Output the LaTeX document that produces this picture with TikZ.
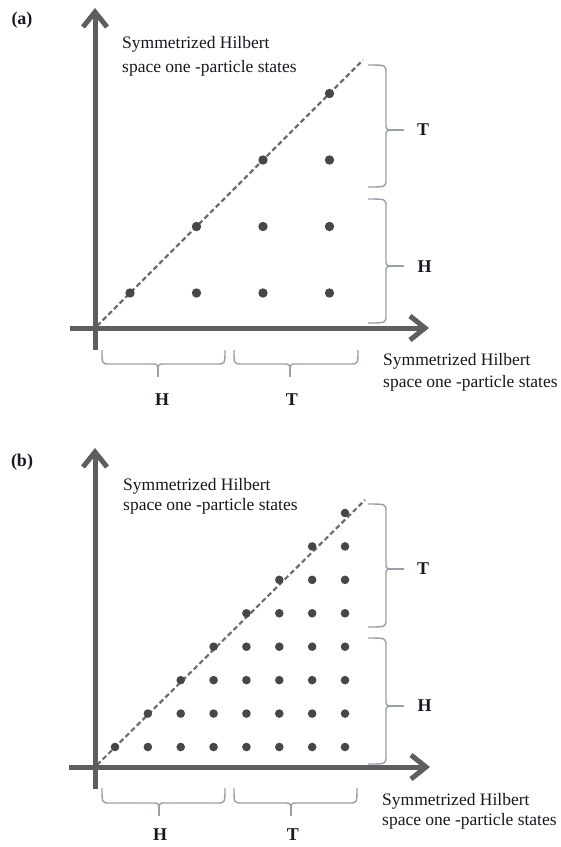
\documentclass[tikz,border=0pt]{standalone}
\usepackage{fontspec}
\setmainfont{Liberation Serif}
\usetikzlibrary{arrows.meta}
\definecolor{axisgray}{HTML}{5E5E62}
\definecolor{dotgray}{HTML}{47474B}
\definecolor{dashgray}{HTML}{6E6E70}
\definecolor{bracegray}{HTML}{99A0A8}
\definecolor{txt}{HTML}{181822}
\tikzset{
  axis/.style={draw=axisgray, line width=5pt, -{Straight Barb[length=15pt,width=24pt]}},
  diag/.style={draw=dashgray, line width=2.2pt, dash pattern=on 5pt off 3pt},
  dot/.style={fill=dotgray},
  bracestyle/.style={draw=bracegray, line width=1.4pt},
  lab/.style={text=txt, inner sep=0pt, font=\fontsize{17.5}{20}\selectfont},
  blab/.style={text=txt, inner sep=0pt, font=\fontsize{18}{20}\selectfont\bfseries},
}
\newcommand{\RightBraceAt}[5]{%
  \draw[bracestyle] (#1,#3) .. controls (#2,#3) .. (#2,#3+8) -- (#2,#4-6) .. controls (#2,#4-1) .. (#2+4,#4) .. controls (#2,#4+1) .. (#2,#4+6) -- (#2,#5-8) .. controls (#2,#5) .. (#1,#5);
  \draw[bracestyle] (#2+4,#4) -- (#2+18,#4);}
\newcommand{\BottomBraceAt}[5]{%
  \draw[bracestyle] (#3,#1) .. controls (#3,#2) .. (#3+8,#2) -- (#4-6,#2) .. controls (#4-1,#2) .. (#4,#2+4) .. controls (#4+1,#2) .. (#4+6,#2) -- (#5-8,#2) .. controls (#5,#2) .. (#5,#1);
  \draw[bracestyle] (#4,#2+4) -- (#4,#2+13);}
\begin{document}
\begin{tikzpicture}[x=1pt,y=-1pt]
\useasboundingbox (0,0) rectangle (561,847);
% ---------------- panel (a)
\node[blab] (la) at (22,20) {(a)};
\coordinate (adiag) at (363,60);
\draw[diag] (97,326) -- (adiag);
\coordinate (ayt) at (95,8);
\coordinate (axt) at (429,328);
\coordinate (ayb) at (95,350);
\coordinate (axb) at (70,328);
\draw[axis] (ayb) -- (ayt);
\draw[axis] (axb) -- (axt);
\foreach \i in {0,...,3}{
  \foreach \j in {0,...,\i}{
    \fill[dot] ({130+66.5*\i},{293-66.5*\j}) circle (4.7pt);
  }
}
\node[lab, anchor=base west] (ay1) at (122,48) {Symmetrized Hilbert};
\node[lab, anchor=base west] (ay2) at (122,72) {space one -particle states};
\node[lab, anchor=base west] (ax1) at (383,365) {Symmetrized Hilbert};
\node[lab, anchor=base west] (ax2) at (383,387) {space one -particle states};
\RightBraceAt{368}{386}{65}{130}{187}
\RightBraceAt{368}{386}{199}{266}{323}
\node[blab] (aT) at (423,130) {T};
\node[blab] (aH) at (424.5,267) {H};
\BottomBraceAt{350}{364}{102}{158}{225}
\BottomBraceAt{350}{364}{234}{290}{358}
\node[blab] (aH2) at (162,400) {H};
\node[blab] (aT2) at (292,400) {T};
% ---------------- panel (b)
\node[blab] (lb) at (22,462) {(b)};
\coordinate (bdiag) at (365,500);
\draw[diag] (97,765) -- (bdiag);
\coordinate (byt) at (95,448);
\coordinate (bxt) at (430,767);
\coordinate (byb) at (95,789);
\coordinate (bxb) at (69,767);
\draw[axis] (byb) -- (byt);
\draw[axis] (bxb) -- (bxt);
\foreach \i in {0,...,7}{
  \foreach \j in {0,...,\i}{
    \fill[dot] ({115+32.86*\i},{747-33.43*\j}) circle (4.3pt);
  }
}
\node[lab, anchor=base west] (by1) at (123,490) {Symmetrized Hilbert};
\node[lab, anchor=base west] (by2) at (123,510) {space one -particle states};
\node[lab, anchor=base west] (bx1) at (382,805) {Symmetrized Hilbert};
\node[lab, anchor=base west] (bx2) at (382,825) {space one -particle states};
\RightBraceAt{368}{386}{504}{569}{627}
\RightBraceAt{368}{386}{638}{706}{764}
\node[blab] (bT) at (423,568.5) {T};
\node[blab] (bH) at (424.5,706) {H};
\BottomBraceAt{788}{803}{102}{159}{225}
\BottomBraceAt{788}{803}{234}{291}{357}
\node[blab] (bH2) at (160,835) {H};
\node[blab] (bT2) at (293,835) {T};
\end{tikzpicture}
\end{document}
